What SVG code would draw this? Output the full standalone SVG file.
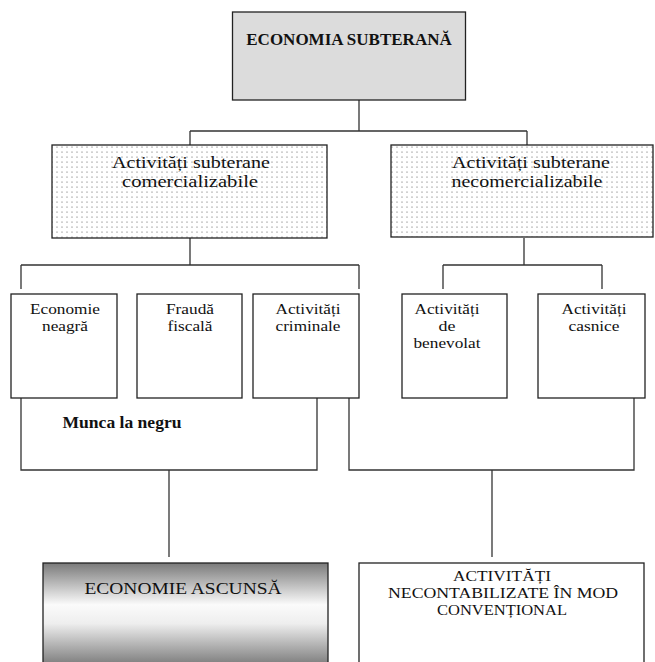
<svg xmlns="http://www.w3.org/2000/svg" width="655" height="662" viewBox="0 0 655 662">
<style>
.box{stroke:#222;stroke-width:1.3;fill:#fff}
.ln{stroke:#333;stroke-width:1.3;fill:none}
.t{font-family:"Liberation Serif","Times New Roman",serif;fill:#111;text-anchor:middle}
.s15{font-size:15px}
.s17{font-size:17px}
.b{font-weight:bold}
</style>
<defs>
<pattern id="dots" width="10" height="10" patternUnits="userSpaceOnUse">
<rect width="10" height="10" fill="#fff"/>
<circle cx="2" cy="2" r="0.6" fill="#555"/>
<circle cx="7" cy="2" r="0.6" fill="#555"/>
<circle cx="2" cy="7" r="0.6" fill="#555"/>
<circle cx="7" cy="7" r="0.6" fill="#555"/>
</pattern>
<linearGradient id="grad" x1="0" y1="0" x2="0" y2="1">
<stop offset="0" stop-color="#7a7a7a"/>
<stop offset="0.38" stop-color="#fbfbfb"/>
<stop offset="0.55" stop-color="#eeeeee"/>
<stop offset="1" stop-color="#666"/>
</linearGradient>
</defs>
<g id="connectors">
<path class="ln" d="M359,100 V131 M190,131 H527 M190,131 V145 M527,131 V145"/>
<path class="ln" d="M190,238 V265 M21,265 H359 M21,265 V289 M359,265 V289"/>
<path class="ln" d="M524,238 V265 M443,265 H602 M443,265 V289 M602,265 V289"/>
<path class="ln" d="M21,398 V470 H317 V398"/>
<path class="ln" d="M349,398 V470 H634 V398"/>
<path class="ln" d="M169,470 V557"/>
<path class="ln" d="M492,470 V557"/>
</g>
<g id="n-economia">
<rect class="box" x="232.5" y="12" width="233" height="88" style="fill:#dcdcdc"/>
<text class="t s17 b" x="349" y="45">ECONOMIA SUBTERANĂ</text>
</g>
<g id="n-comerc">
<rect class="box" x="52" y="145" width="275" height="93" style="fill:url(#dots)"/>
<text class="t s17" x="191" y="167.5" textLength="158" lengthAdjust="spacingAndGlyphs">Activități subterane</text>
<text class="t s17" x="190" y="186.5" textLength="136" lengthAdjust="spacingAndGlyphs">comercializabile</text>
</g>
<g id="n-necomerc">
<rect class="box" x="391" y="145" width="262" height="92" style="fill:url(#dots)"/>
<text class="t s17" x="531" y="167.5" textLength="158" lengthAdjust="spacingAndGlyphs">Activități subterane</text>
<text class="t s17" x="527" y="186.5" textLength="151" lengthAdjust="spacingAndGlyphs">necomercializabile</text>
</g>
<g id="n-neagra">
<rect class="box" x="11" y="294" width="106" height="104"/>
<text class="t s15" x="65" y="314" textLength="70" lengthAdjust="spacingAndGlyphs">Economie</text>
<text class="t s15" x="65" y="331" textLength="46" lengthAdjust="spacingAndGlyphs">neagră</text>
</g>
<g id="n-frauda">
<rect class="box" x="137" y="294" width="105" height="104"/>
<text class="t s15" x="190" y="314" textLength="48" lengthAdjust="spacingAndGlyphs">Fraudă</text>
<text class="t s15" x="190" y="331" textLength="45" lengthAdjust="spacingAndGlyphs">fiscală</text>
</g>
<g id="n-criminale">
<rect class="box" x="253" y="294" width="106" height="104"/>
<text class="t s15" x="308" y="314" textLength="65" lengthAdjust="spacingAndGlyphs">Activități</text>
<text class="t s15" x="308" y="331" textLength="65" lengthAdjust="spacingAndGlyphs">criminale</text>
</g>
<g id="n-benevolat">
<rect class="box" x="402" y="294" width="105" height="104"/>
<text class="t s15" x="447" y="314" textLength="65" lengthAdjust="spacingAndGlyphs">Activități</text>
<text class="t s15" x="447" y="331" textLength="17" lengthAdjust="spacingAndGlyphs">de</text>
<text class="t s15" x="447" y="348" textLength="67" lengthAdjust="spacingAndGlyphs">benevolat</text>
</g>
<g id="n-casnice">
<rect class="box" x="538" y="294" width="107" height="104"/>
<text class="t s15" x="594" y="314" textLength="65" lengthAdjust="spacingAndGlyphs">Activități</text>
<text class="t s15" x="594" y="331" textLength="51" lengthAdjust="spacingAndGlyphs">casnice</text>
</g>
<g id="l-munca">
<text class="t s17 b" x="122" y="428" textLength="119" lengthAdjust="spacingAndGlyphs">Munca la negru</text>
</g>
<g id="n-ascunsa">
<rect class="box" x="43" y="563" width="285" height="110" style="fill:url(#grad)"/>
<text class="t" style="font-size:17px" x="183" y="594" textLength="197" lengthAdjust="spacingAndGlyphs">ECONOMIE ASCUNSĂ</text>
</g>
<g id="n-necontabilizate">
<rect class="box" x="359" y="563" width="285" height="110"/>
<text class="t s15" x="502" y="581" textLength="98" lengthAdjust="spacingAndGlyphs">ACTIVITĂȚI</text>
<text class="t s15" x="503" y="598" textLength="230" lengthAdjust="spacingAndGlyphs">NECONTABILIZATE ÎN MOD</text>
<text class="t s15" x="502" y="615" textLength="130" lengthAdjust="spacingAndGlyphs">CONVENȚIONAL</text>
</g>
</svg>
